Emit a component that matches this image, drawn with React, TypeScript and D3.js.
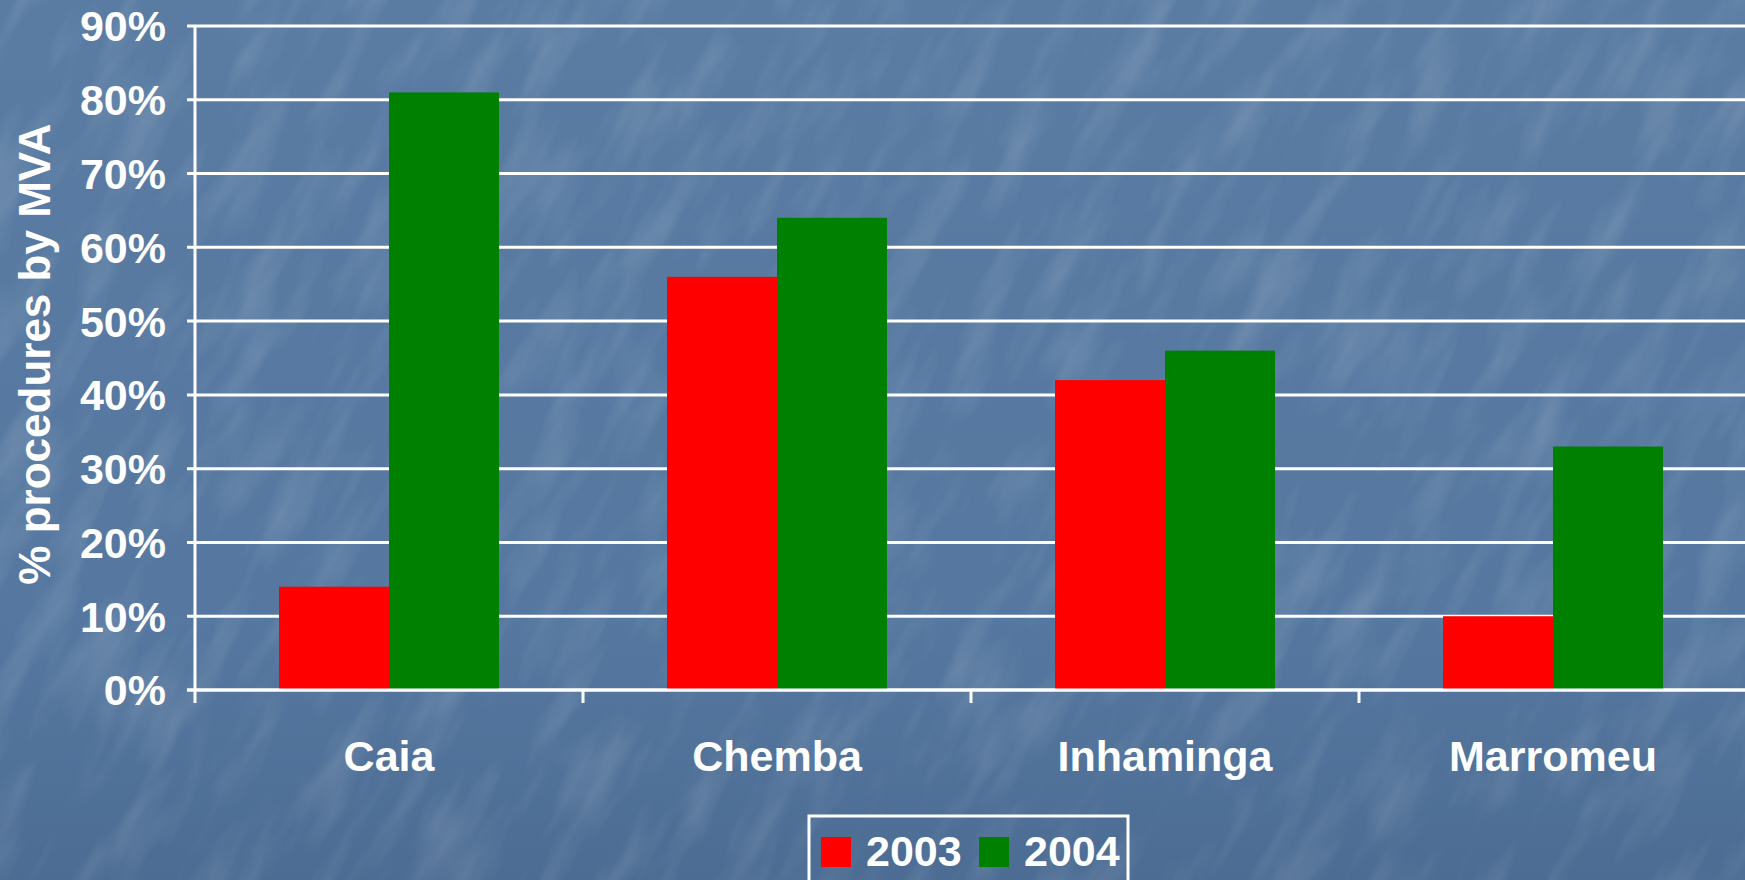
import { useRef, useEffect } from 'react';
import * as d3 from 'd3';

const categories = ['Caia', 'Chemba', 'Inhaminga', 'Marromeu'];
const years = ['2003', '2004'];
const values2003 = [0.14, 0.56, 0.42, 0.10];
const values2004 = [0.81, 0.64, 0.46, 0.33];
const yTicks = [0, 0.1, 0.2, 0.3, 0.4, 0.5, 0.6, 0.7, 0.8, 0.9];
const colors = ['#ff0000', '#008000'];

const W = 1745;
const H = 880;

const App = () => {
  const svgRef = useRef<SVGSVGElement>(null);

  useEffect(() => {
    document.body.style.margin = '0';
    const svg = d3.select(svgRef.current);
    svg.selectAll('*').remove();

    const margin = { top: 26, right: 0, bottom: 190, left: 195 };
    const font = '"Liberation Sans", Arial, sans-serif';
    const fs = 43;

    // background
    const defs = svg.append('defs');
    const grad = defs.append('linearGradient')
      .attr('id', 'bg').attr('x1', 0).attr('y1', 0).attr('x2', 0).attr('y2', 1);
    grad.append('stop').attr('offset', '0%').attr('stop-color', '#5a7ca3');
    grad.append('stop').attr('offset', '70%').attr('stop-color', '#5678a0');
    grad.append('stop').attr('offset', '100%').attr('stop-color', '#4c6c93');

    const filt = defs.append('filter').attr('id', 'tex')
      .attr('x', 0).attr('y', 0).attr('width', 1).attr('height', 1);
    filt.append('feTurbulence')
      .attr('type', 'fractalNoise')
      .attr('baseFrequency', '0.03 0.008')
      .attr('numOctaves', 3)
      .attr('seed', 7);
    filt.append('feColorMatrix')
      .attr('type', 'matrix')
      .attr('values', '0 0 0 0 1  0 0 0 0 1  0 0 0 0 1  0 0 0 1.3 -0.58');

    svg.append('rect').attr('width', W).attr('height', H).attr('fill', 'url(#bg)');
    svg.append('g')
      .attr('transform', `translate(${W / 2},${H / 2}) rotate(28)`)
      .append('rect')
      .attr('x', -1300).attr('y', -1300).attr('width', 2600).attr('height', 2600)
      .attr('filter', 'url(#tex)')
      .attr('opacity', 0.2);

    const x0 = d3.scaleBand()
      .domain(categories)
      .range([margin.left, margin.left + 4 * 388]);

    const groupW = x0.bandwidth() * 0.567;
    const x1 = d3.scaleBand()
      .domain(years)
      .range([0, groupW]);

    const y = d3.scaleLinear()
      .domain([0, 0.9])
      .range([H - margin.bottom, margin.top]);

    // gridlines
    svg.append('g')
      .selectAll('line')
      .data(yTicks)
      .join('line')
      .attr('x1', margin.left - 8)
      .attr('x2', W)
      .attr('y1', d => y(d))
      .attr('y2', d => y(d))
      .attr('stroke', '#fff')
      .attr('stroke-width', 3);

    // y labels
    svg.append('g')
      .selectAll('text')
      .data(yTicks)
      .join('text')
      .attr('x', margin.left - 29)
      .attr('y', d => y(d))
      .attr('dy', '0.36em')
      .attr('text-anchor', 'end')
      .attr('fill', '#fff')
      .attr('font-family', font)
      .attr('font-weight', 'bold')
      .attr('font-size', fs)
      .text(d => `${Math.round(d * 100)}%`);

    // bars
    const series = [values2003, values2004];
    const groups = svg.append('g')
      .selectAll('g')
      .data(categories)
      .join('g')
      .attr('transform', d => `translate(${x0(d)! + (x0.bandwidth() - groupW) / 2},0)`);

    groups.selectAll('rect')
      .data((d, i) => years.map((yr, s) => ({ yr, v: series[s][i], s })))
      .join('rect')
      .attr('x', d => x1(d.yr)!)
      .attr('width', x1.bandwidth())
      .attr('y', d => y(d.v))
      .attr('height', d => y(0) - y(d.v))
      .attr('fill', d => colors[d.s]);

    // axis lines
    svg.append('line')
      .attr('x1', margin.left).attr('x2', margin.left)
      .attr('y1', y(0.9)).attr('y2', y(0) + 13)
      .attr('stroke', '#fff').attr('stroke-width', 3);
    svg.append('line')
      .attr('x1', margin.left - 8).attr('x2', W)
      .attr('y1', y(0)).attr('y2', y(0))
      .attr('stroke', '#fff').attr('stroke-width', 3);
    svg.append('g')
      .selectAll('line')
      .data(categories.slice(1))
      .join('line')
      .attr('x1', d => x0(d)!).attr('x2', d => x0(d)!)
      .attr('y1', y(0)).attr('y2', y(0) + 13)
      .attr('stroke', '#fff').attr('stroke-width', 3);

    // category labels
    svg.append('g')
      .selectAll('text')
      .data(categories)
      .join('text')
      .attr('x', d => x0(d)! + x0.bandwidth() / 2)
      .attr('y', 771)
      .attr('text-anchor', 'middle')
      .attr('fill', '#fff')
      .attr('font-family', font)
      .attr('font-weight', 'bold')
      .attr('font-size', fs)
      .text(d => d);

    // y title
    svg.append('text')
      .attr('transform', `translate(50,${(y(0) + y(0.9)) / 2 - 4}) rotate(-90)`)
      .attr('text-anchor', 'middle')
      .attr('fill', '#fff')
      .attr('font-family', font)
      .attr('font-weight', 'bold')
      .attr('font-size', 44)
      .text('% procedures by MVA');

    // legend
    const lg = svg.append('g');
    lg.append('rect')
      .attr('x', 809).attr('y', 816).attr('width', 319).attr('height', 80)
      .attr('fill', 'none').attr('stroke', '#fff').attr('stroke-width', 3);
    const items = lg.selectAll('g')
      .data(years)
      .join('g')
      .attr('transform', (d, i) => `translate(${821 + i * 158},837)`);
    items.append('rect')
      .attr('width', 30).attr('height', 30)
      .attr('fill', (d, i) => colors[i]);
    items.append('text')
      .attr('x', 45).attr('y', 29)
      .attr('fill', '#fff')
      .attr('font-family', font)
      .attr('font-weight', 'bold')
      .attr('font-size', fs)
      .text(d => d);
  }, []);

  return <svg ref={svgRef} width={W} height={H} style={{ display: 'block' }}></svg>;
};

export default App;
